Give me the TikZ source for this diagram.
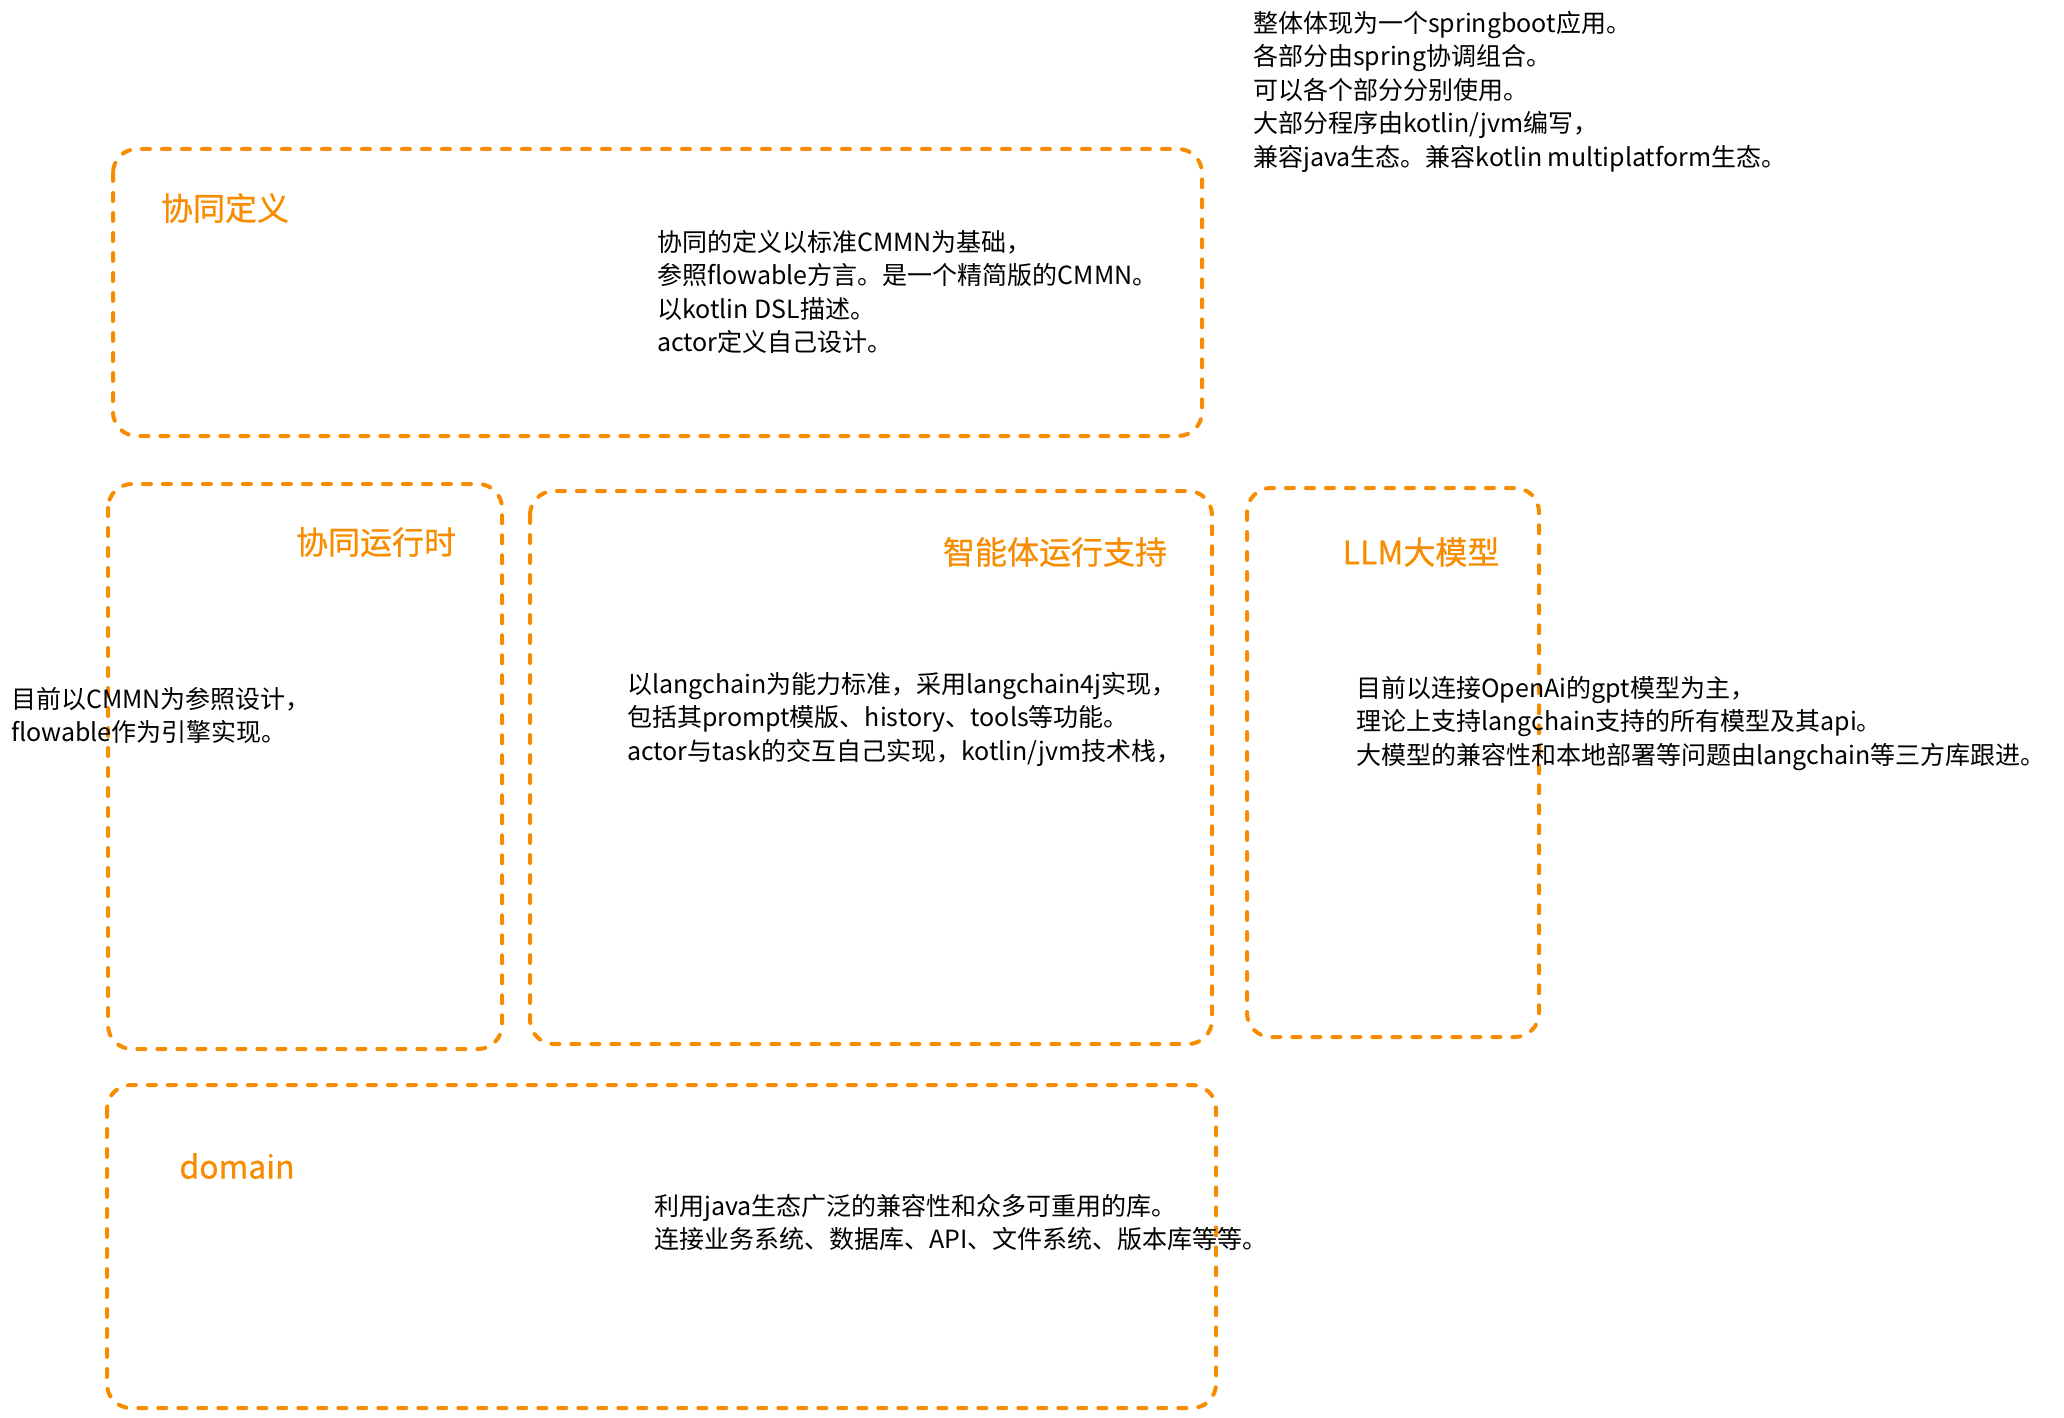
\documentclass[tikz,border=0pt]{standalone}
\usepackage{fontspec}
\setmainfont{Noto Sans CJK SC}
\newfontfamily\titlefont[FakeBold=0.6]{Noto Sans CJK SC}
\definecolor{boxorange}{RGB}{247,140,0}

\begin{document}
\begin{tikzpicture}[x=1pt, y=-1pt,
  frame/.style={draw=boxorange, line width=4pt, dash pattern=on 8pt off 12pt, line cap=round, rounded corners=24pt},
  title/.style={text=boxorange, inner sep=0pt, font=\titlefont\fontsize{32}{36}\selectfont},
  note/.style={align=left, anchor=north west, inner sep=0pt, font=\fontsize{25}{33.5}\selectfont}]
	\useasboundingbox (0,0) rectangle (2064,1418);

	% frames
	\draw[frame] (113,149) rectangle (1202,436);
	\draw[frame] (108,484) rectangle (502,1049);
	\draw[frame] (530,491) rectangle (1212,1044);
	\draw[frame] (1247,488) rectangle (1539,1037);
	\draw[frame] (107,1085) rectangle (1216,1408);

	% titles
	\node[title] (deftitle) at (225,208) {协同定义};
	\node[title] (runtitle) at (376,542) {协同运行时};
	\node[title] (agenttitle) at (1055,552) {智能体运行支持};
	\node[title] (llmtitle) at (1421,552) {LLM大模型};
	\node[title] (domaintitle) at (237,1166) {domain};

	% notes
	\node[note] (overall) at (1253,11) {整体体现为一个springboot应用。\\各部分由spring协调组合。\\可以各个部分分别使用。\\大部分程序由kotlin/jvm编写，\\兼容java生态。兼容kotlin multiplatform生态。};
	\node[note] (defnote) at (657,230) {协同的定义以标准CMMN为基础，\\参照flowable方言。是一个精简版的CMMN。\\以kotlin DSL描述。\\actor定义自己设计。};
	\node[note] (runnote) at (11,687) {目前以CMMN为参照设计，\\flowable作为引擎实现。};
	\node[note] (agentnote) at (627,672) {以langchain为能力标准，采用langchain4j实现，\\包括其prompt模版、history、tools等功能。\\actor与task的交互自己实现，kotlin/jvm技术栈，};
	\node[note] (llmnote) at (1356,676) {目前以连接OpenAi的gpt模型为主，\\理论上支持langchain支持的所有模型及其api。\\大模型的兼容性和本地部署等问题由langchain等三方库跟进。};
	\node[note] (domainnote) at (654,1194) {利用java生态广泛的兼容性和众多可重用的库。\\连接业务系统、数据库、API、文件系统、版本库等等。};
\end{tikzpicture}
\end{document}
